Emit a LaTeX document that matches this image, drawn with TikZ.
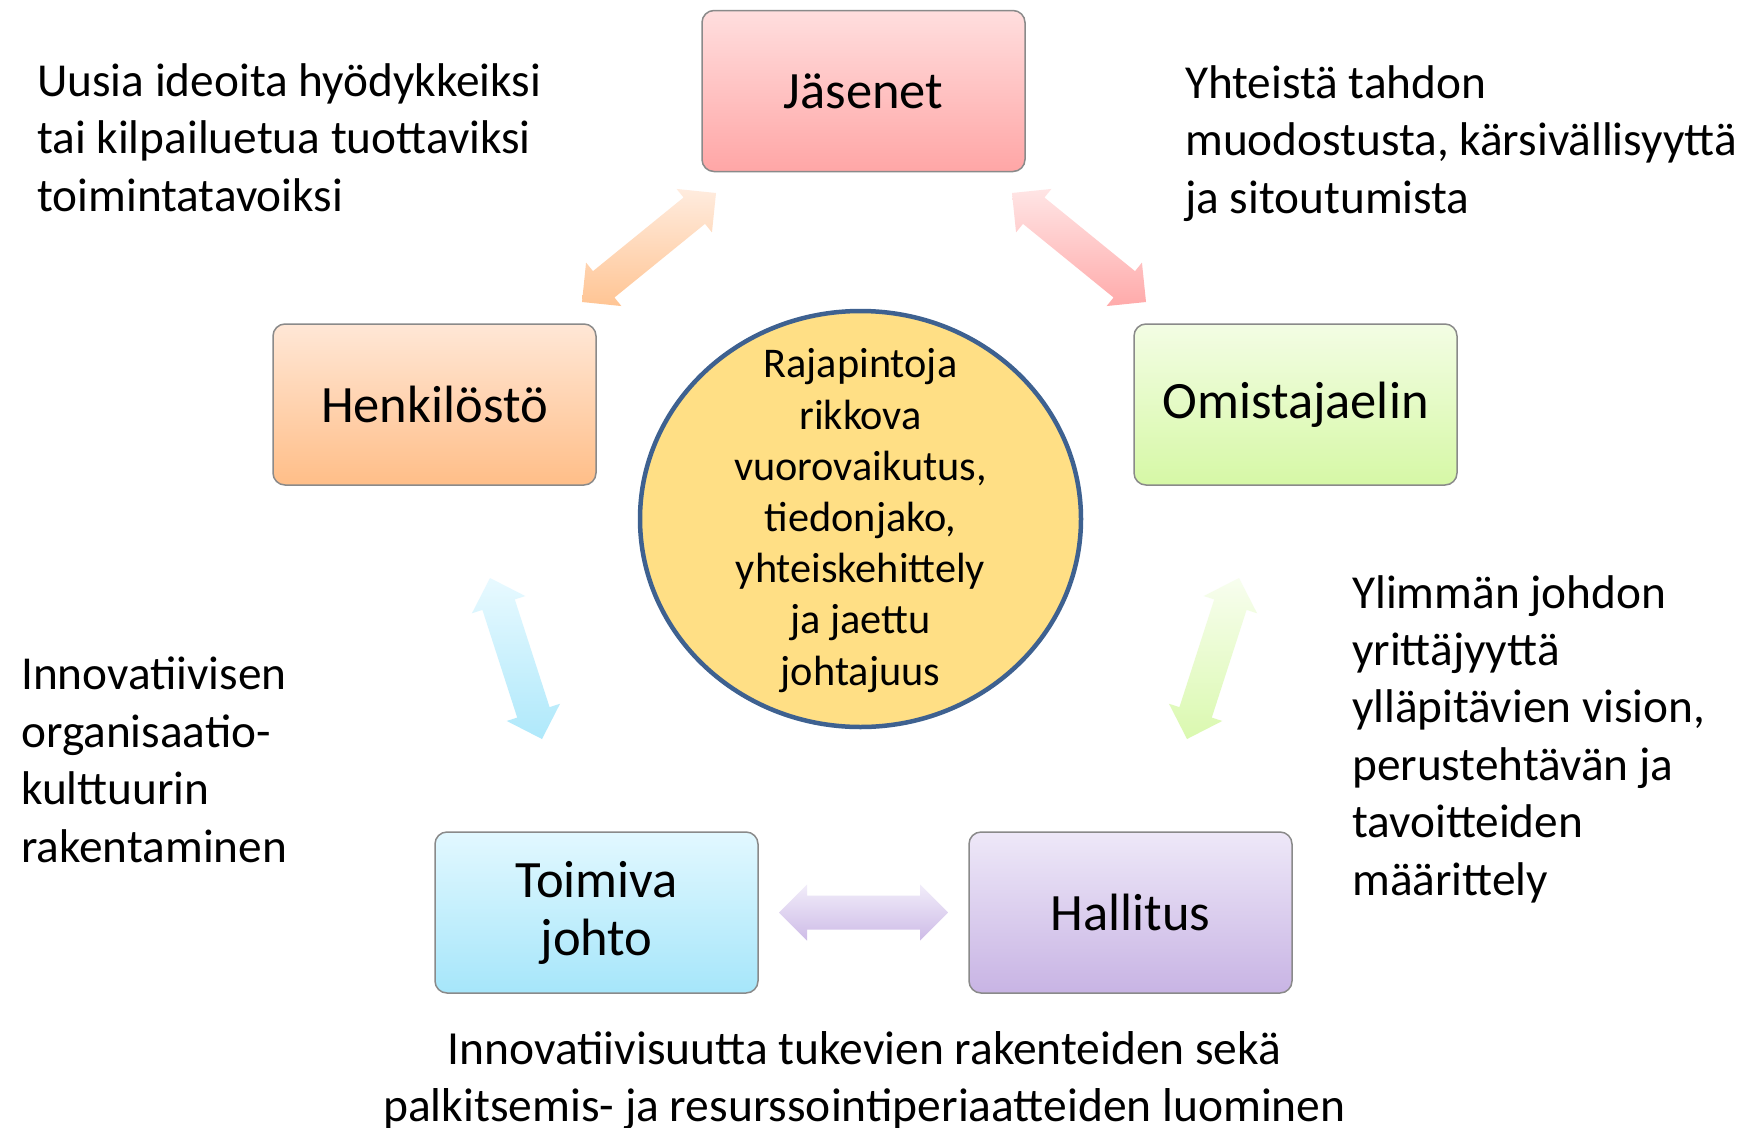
\documentclass[tikz,border=0pt]{standalone}
\usepackage{fontspec}
\setmainfont{Carlito}
\usetikzlibrary{calc,shapes.geometric}
\definecolor{jasTop}{HTML}{FFDEDE}\definecolor{jasBot}{HTML}{FFA6A6}
\definecolor{henTop}{HTML}{FFE7D6}\definecolor{henBot}{HTML}{FFBE88}
\definecolor{omiTop}{HTML}{F3FDE4}\definecolor{omiBot}{HTML}{D6F8A6}
\definecolor{toiTop}{HTML}{E2F8FF}\definecolor{toiBot}{HTML}{A6E6FA}
\definecolor{halTop}{HTML}{EEE8F8}\definecolor{halBot}{HTML}{C8B4E4}
\definecolor{boxline}{HTML}{8A8A8A}
\definecolor{coreFill}{HTML}{FFDF85}
\definecolor{coreLine}{HTML}{3E6190}
\tikzset{
  box/.style={draw=boxline, line width=1.5pt, rounded corners=12pt,
    minimum width=323pt, minimum height=161pt, inner sep=0pt, align=center,
    font=\fontsize{52.5}{58}\selectfont},
  note/.style={align=left, inner sep=0pt, font=\fontsize{47.3}{57.4}\selectfont},
  notec/.style={align=center, inner sep=0pt, font=\fontsize{47.5}{57.4}\selectfont},
}
% block double arrow between two named coordinates
\newcommand\blockarr[4]{%
  \path[top color=#3, bottom color=#4]
    let \p1=($(#2)-(#1)$), \n1={atan2(\y1,\x1)} in
    (#1)
    -- ($(#1)+(\n1:28pt)+(\n1+90:28pt)$)
    -- ($(#1)+(\n1:28pt)+(\n1+90:17pt)$)
    -- ($(#2)+(\n1+180:28pt)+(\n1+90:17pt)$)
    -- ($(#2)+(\n1+180:28pt)+(\n1+90:28pt)$)
    -- (#2)
    -- ($(#2)+(\n1+180:28pt)+(\n1-90:28pt)$)
    -- ($(#2)+(\n1+180:28pt)+(\n1-90:17pt)$)
    -- ($(#1)+(\n1:28pt)+(\n1-90:17pt)$)
    -- ($(#1)+(\n1:28pt)+(\n1-90:28pt)$)
    -- cycle;}
\begin{document}
\begin{tikzpicture}[x=1pt,y=-1pt]
\useasboundingbox[fill=white] (0,0) rectangle (1753,1127);

% boxes
\node[box, top color=jasTop, bottom color=jasBot] (jas) at (863.5,91) {Jäsenet};
\node[box, top color=henTop, bottom color=henBot] (hen) at (434.5,404.5) {Henkilöstö};
\node[box, top color=omiTop, bottom color=omiBot] (omi) at (1295.5,404.5) {Omistajaelin};
\node[box, top color=toiTop, bottom color=toiBot] (toi) at (596.5,912.5) {Toimiva\\johto};
\node[box, top color=halTop, bottom color=halBot] (hal) at (1130.5,912.5) {Hallitus};

% core
\node[ellipse, draw=coreLine, line width=4.5pt, fill=coreFill,
      minimum width=441pt, minimum height=416pt, inner sep=0pt] (core) at (860.5,519) {};
\node[align=center, inner sep=0pt, font=\fontsize{42.3}{51.2}\selectfont, anchor=base]
  (coretext) at (860.5,685) {Rajapintoja\\rikkova\\vuorovaikutus,\\tiedonjako,\\yhteiskehittely\\ja jaettu\\johtajuus};

% arrow end points
\coordinate (a1s) at (582,302);  \coordinate (a1e) at (716,193);
\coordinate (a2s) at (1012,193); \coordinate (a2e) at (1146,302);
\coordinate (a3s) at (490,578);  \coordinate (a3e) at (542,739);
\coordinate (a4s) at (1239,578); \coordinate (a4e) at (1187,739);
\coordinate (a5s) at (779,912.5); \coordinate (a5e) at (948,912.5);

\blockarr{a1s}{a1e}{henTop!80!white}{henBot!90!white}
\blockarr{a2s}{a2e}{jasTop!80!white}{jasBot!95!white}
\blockarr{a3s}{a3e}{toiTop!80!white}{toiBot!90!white}
\blockarr{a4s}{a4e}{omiTop!60!white}{omiBot!90!white}
\blockarr{a5s}{a5e}{halTop!80!white}{halBot!90!white}

% notes (base anchor = baseline of the last line)
\node[note, anchor=base west] (n1) at (37,211)
  {Uusia ideoita hyödykkeiksi\\tai kilpailuetua tuottaviksi\\toimintatavoiksi};
\node[note, anchor=base west] (n2) at (1185,213)
  {Yhteistä tahdon\\muodostusta, kärsivällisyyttä\\ja sitoutumista};
\node[note, anchor=base west] (n3) at (1352,895)
  {Ylimmän johdon\\yrittäjyyttä\\ylläpitävien vision,\\perustehtävän ja\\tavoitteiden\\määrittely};
\node[note, anchor=base west] (n4) at (21,862)
  {Innovatiivisen\\organisaatio-\\kulttuurin\\rakentaminen};
\node[notec, anchor=base] (n5) at (864.5,1121.5)
  {Innovatiivisuutta tukevien rakenteiden sekä\\palkitsemis- ja resurssointiperiaatteiden luominen};
\end{tikzpicture}
\end{document}
